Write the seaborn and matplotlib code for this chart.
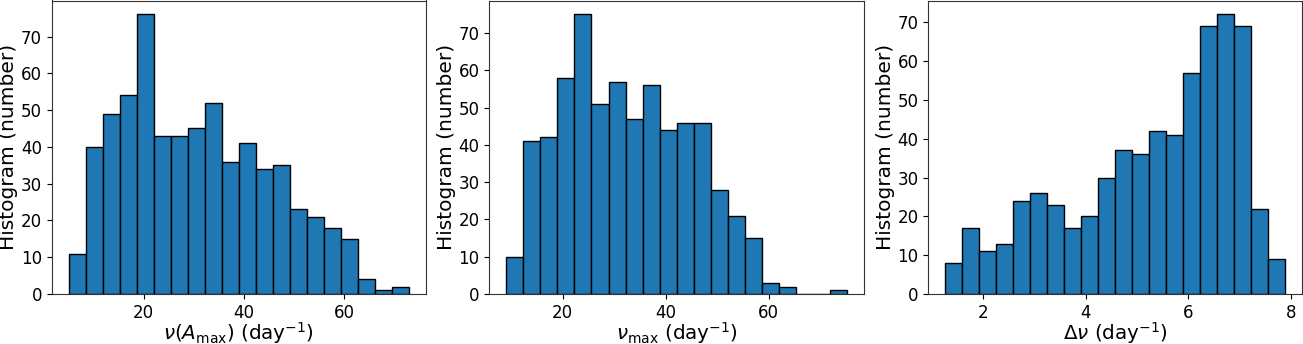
import numpy as np
import pandas as pd
import matplotlib
matplotlib.use("Agg")
import matplotlib.pyplot as plt
import seaborn as sns

# ---- data ----
amax_counts = [11, 40, 49, 54, 76, 43, 43, 45, 52, 36, 41, 34, 35, 23, 21, 18, 15, 4, 1, 2]
amax_range = (5.05, 73.0)

numax_counts = [10, 41, 42, 58, 75, 51, 57, 47, 56, 44, 46, 46, 28, 21, 15, 3, 2, 0, 0, 1]
numax_range = (9.05, 75.2)

dnu_counts = [8, 17, 11, 13, 24, 26, 23, 17, 20, 30, 37, 36, 42, 41, 57, 69, 72, 69, 22, 9]
dnu_range = (1.274, 7.878)

xlabels = [r"$\nu(A_{\rm max})$ (day$^{-1}$)", r"$\nu_{\rm max}$ (day$^{-1}$)", r"$\Delta\nu$ (day$^{-1}$)"]
ylabel = "Histogram (number)"

panels = [(amax_counts, amax_range), (numax_counts, numax_range), (dnu_counts, dnu_range)]

W, H = 1303, 344
fig = plt.figure(figsize=(W / 100, H / 100), dpi=100)
axes_px = [(51.7, 426.0), (489.3, 864.0), (928.3, 1302.0)]
top_px, bot_px = 0.5, 294.0

for (counts, rng), xl, (x0, x1) in zip(panels, xlabels, axes_px):
    ax = fig.add_axes([x0 / W, (H - bot_px) / H, (x1 - x0) / W, (bot_px - top_px) / H])
    nb = len(counts)
    width = (rng[1] - rng[0]) / nb
    centers = [rng[0] + width * (i + 0.5) for i in range(nb)]
    df = pd.DataFrame({"x": centers, "w": counts})
    sns.histplot(data=df, x="x", weights="w", bins=nb, binrange=rng, ax=ax,
                 color="#1f77b4", alpha=1.0, edgecolor="black", linewidth=1.0)
    ax.set_xlabel(xl, fontsize=14.3, labelpad=-1.5)
    ax.set_ylabel(ylabel, fontsize=14.5, labelpad=2)
    ax.tick_params(labelsize=12)
    ax.set_ylim(0, max(counts) * 1.05)
    ax.set_xlim(rng[0] - 0.05 * (rng[1] - rng[0]), rng[1] + 0.05 * (rng[1] - rng[0]))
    for s in ax.spines.values():
        s.set_color("#333333")

fig.savefig("out.png", dpi=100)
